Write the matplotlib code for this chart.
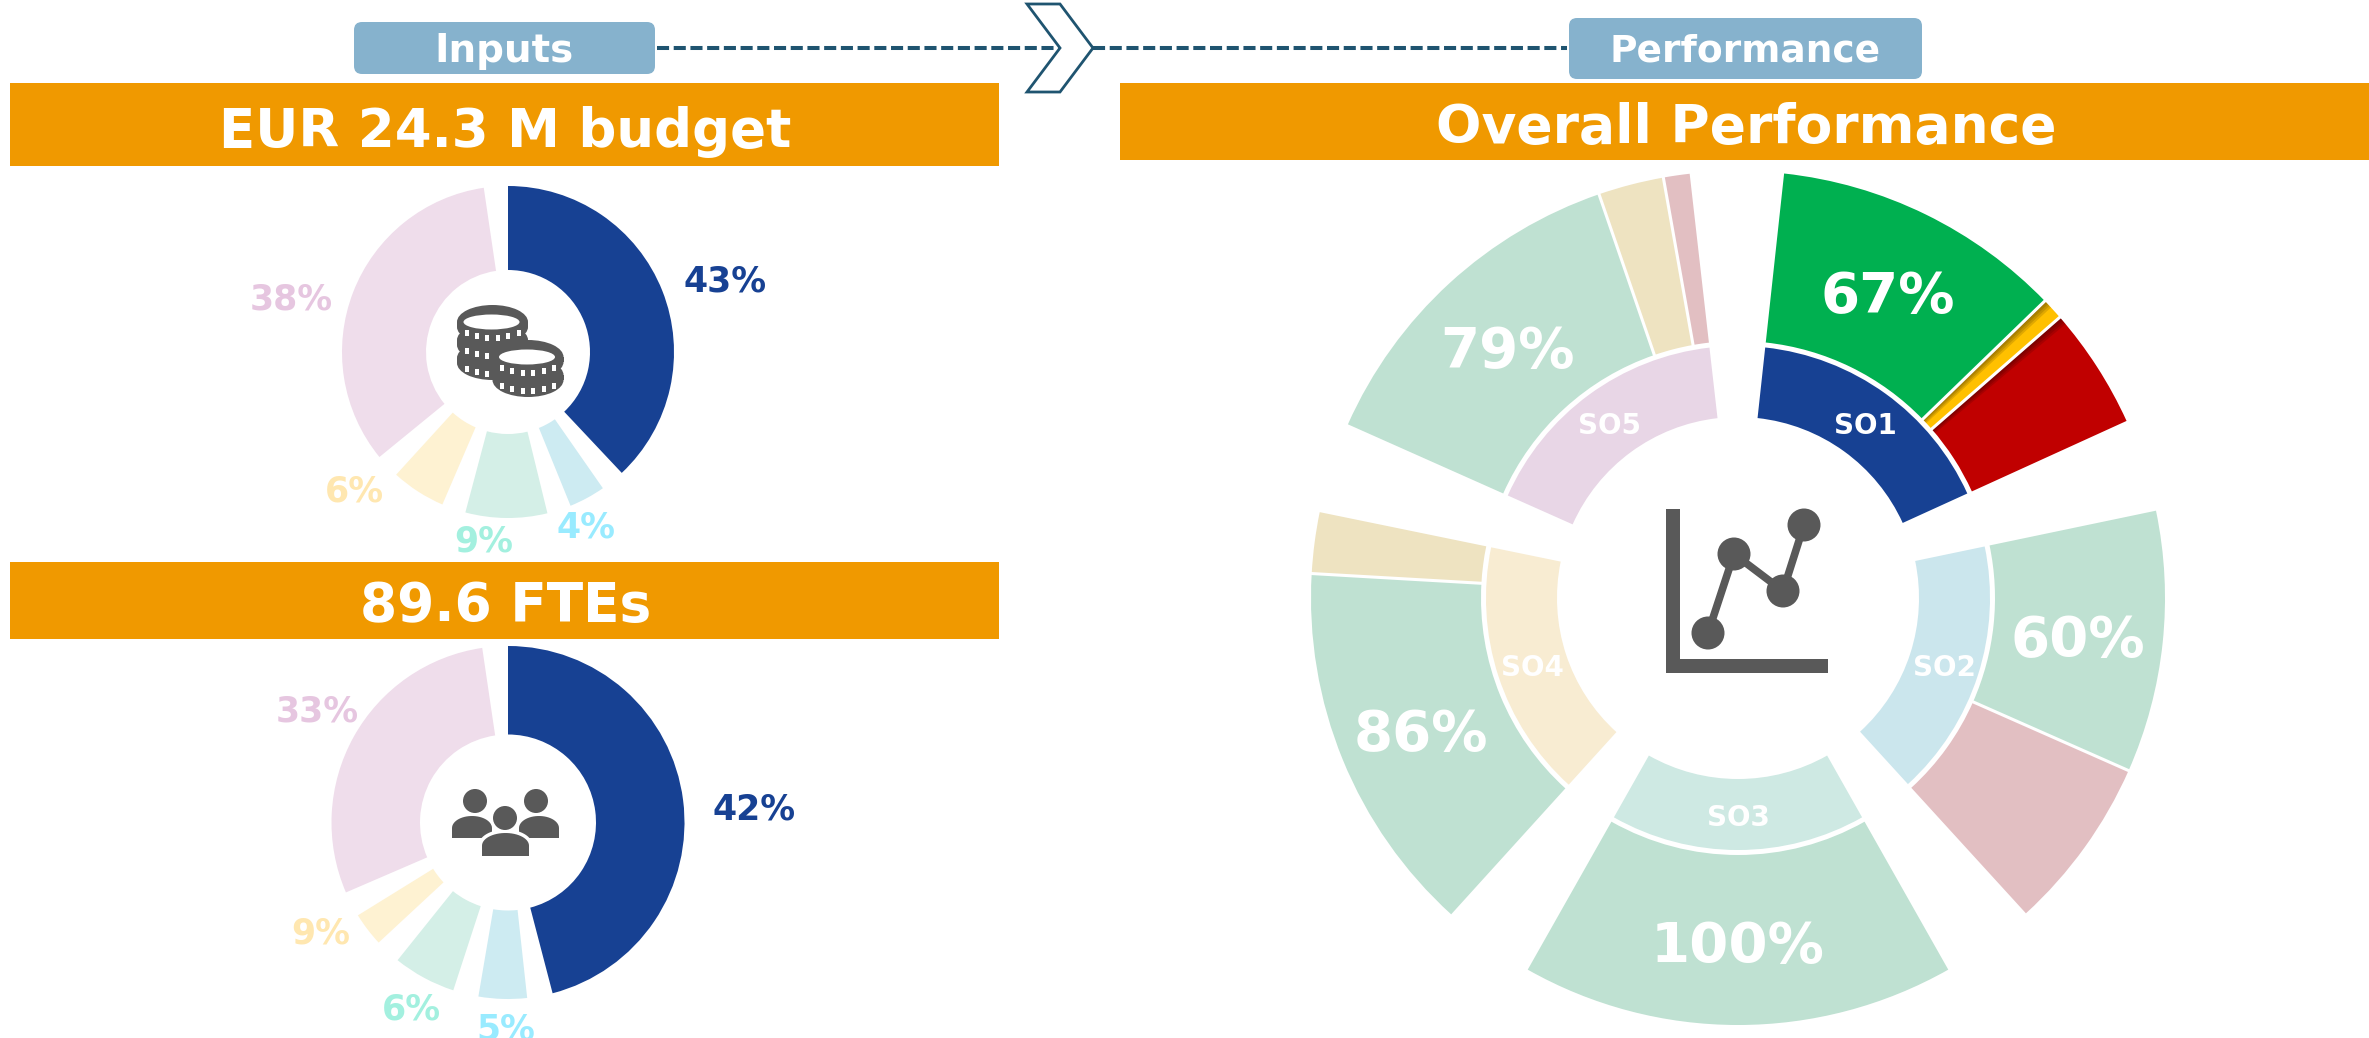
import numpy as np
import matplotlib
matplotlib.use("Agg")
import matplotlib.pyplot as plt
from matplotlib.patches import Wedge, Rectangle, Ellipse, Circle, Polygon, FancyBboxPatch

# Donut values as they are labelled and as they are drawn
budget_labels = ["43%", "4%", "9%", "6%", "38%"]
budget_shares = [43, 4, 9, 6, 38]
fte_labels = ["42%", "5%", "6%", "9%", "33%"]
fte_shares = [52, 5, 6.5, 3.5, 33]  # the slices in the picture do not follow the labels

# Performance per strategic objective (green / amber / red style split)
so_names = ["SO1", "SO2", "SO3", "SO4", "SO5"]
so1_split = [67, 5, 28]
so2_split = [60, 40]
so3_split = [100]
so4_split = [86, 14]
so5_split = [79, 15, 6]
so_scores = ["67%", "60%", "100%", "86%", "79%"]

NAVY = "#174193"
ORANGE = "#F09900"
CHIP = "#86B2CD"
DASH = "#1F5470"
GREY = "#595959"
donut_colors = [NAVY, "#CDEBF2", "#D4EFE7", "#FEF2D2", "#EFDDEB"]
label_colors = [NAVY, "#99EBFF", "#A3F0DF", "#FFE7B0", "#E6C6E0"]

plt.rcParams['font.family'] = ['DejaVu Sans']

fig = plt.figure(figsize=(23.69, 10.38), dpi=100)
ax = fig.add_axes([0, 0, 1, 1])
ax.set_xlim(0, 2369)
ax.set_ylim(1038, 0)  # pixel coordinates, angles then run clockwise
ax.axis("off")


def sector(cx, cy, r_in, r_out, a1, a2, color, **kw):
    # a1, a2 in degrees clockwise from twelve o'clock
    ax.add_patch(Wedge((cx, cy), r_out, a1 - 90, a2 - 90, width=r_out - r_in,
                       facecolor=color, edgecolor="none", **kw))


def donut(cx, cy, r_in, r_out, shares, colors, gap=8.4):
    scale = (360 - gap * len(shares)) / sum(shares)
    a = 0
    for share, color in zip(shares, colors):
        sector(cx, cy, r_in, r_out, a, a + share * scale, color)
        a += share * scale + gap


def banner(x0, x1, y0, y1, txt, size, xc, yc):
    ax.add_patch(Rectangle((x0, y0), x1 - x0, y1 - y0, facecolor=ORANGE, edgecolor="none"))
    ax.text(xc, yc, txt, color="white", fontsize=size, fontweight="bold", ha="center", va="center")


def chip(x0, x1, y0, y1, txt, size):
    ax.add_patch(FancyBboxPatch((x0 + 7, y0 + 7), x1 - x0 - 14, y1 - y0 - 14,
                                boxstyle="round,pad=7,rounding_size=8",
                                facecolor=CHIP, edgecolor="none"))
    ax.text((x0 + x1) / 2, (y0 + y1) / 2 + 3, txt, color="white", fontsize=size,
            fontweight="bold", ha="center", va="center")


def coin_stack(cx, tops, rx=35.5, ry=17, h=5):
    # tops run from the lowest coin up, each one painted over the last
    for top in tops:
        ax.add_patch(Ellipse((cx, top + h), 2 * rx, 2 * ry, facecolor=GREY, edgecolor="none"))
        ax.add_patch(Rectangle((cx - rx, top), 2 * rx, h, facecolor=GREY, edgecolor="none"))
        ax.add_patch(Ellipse((cx, top), 2 * rx, 2 * ry, facecolor=GREY, edgecolor="none"))
        for px in np.linspace(cx - 26, cx + 26, 6):
            u = (px - cx) / 28
            py = top + 16 - 6 * u ** 2
            ax.add_patch(Rectangle((px - 2, py - 3), 4, 6, facecolor="white", edgecolor="none"))
    ax.add_patch(Ellipse((cx - 1, tops[-1]), 2 * rx - 15, 15, facecolor="white", edgecolor="none"))


def person(xc, head_y, head_r, x0, x1, y0, y1, outline=False):
    t = np.linspace(np.pi, 0, 30)
    xs = (x0 + x1) / 2 + (x1 - x0) / 2 * np.cos(t)
    ys = y0 + (y1 - y0) * 0.55 - (y1 - y0) * 0.55 * np.sin(t)
    pts = list(zip(xs, ys)) + [(x1, y1), (x0, y1)]
    if outline:
        ax.add_patch(Polygon(pts, closed=True, facecolor="white", edgecolor="white", linewidth=5))
        ax.add_patch(Ellipse((xc, head_y), 2 * head_r + 6, 2 * head_r + 6, facecolor="white", edgecolor="none"))
    ax.add_patch(Polygon(pts, closed=True, facecolor=GREY, edgecolor="none"))
    ax.add_patch(Ellipse((xc, head_y), 2 * head_r, 2 * head_r, facecolor=GREY, edgecolor="none"))


# Header chips and the dashed link with its chevron
chip(354, 655, 22, 74, "Inputs", 28)
chip(1569, 1922, 18, 79, "Performance", 27)
ax.plot([657, 1060], [48, 48], color=DASH, lw=2.9, linestyle=(0, (3.0, 1.15)))
ax.plot([1093, 1567], [48, 48], color=DASH, lw=2.9, linestyle=(0, (3.0, 1.15)))
ax.add_patch(Polygon([(1027, 4), (1060, 4), (1093, 48), (1060, 92), (1027, 92), (1060, 48)],
                     closed=True, facecolor="white", edgecolor=DASH, linewidth=2))

banner(10, 999, 83, 166, "EUR 24.3 M budget", 38.2, 505, 132)
banner(10, 999, 562, 639, "89.6 FTEs", 38.4, 506, 606)
banner(1120, 2369, 83, 160, "Overall Performance", 38.5, 1746, 128)

# Budget donut
donut(508, 352, 82, 166, budget_shares, donut_colors)
budget_pos = [(725, 282), (586, 527), (484, 542), (354, 491), (291, 300)]
for txt, c, (x, y) in zip(budget_labels, label_colors, budget_pos):
    ax.text(x, y, txt, color=c, fontsize=25, fontweight="bold", ha="center", va="center")
coin_stack(492.5, [358, 340, 322])
coin_stack(528, [375, 357])

# FTE donut
donut(508, 822.5, 88, 176.5, fte_shares, donut_colors)
fte_pos = [(754, 809), (506, 1030), (411, 1010), (321, 934), (317, 712)]
for txt, c, (x, y) in zip(fte_labels, label_colors, fte_pos):
    ax.text(x, y, txt, color=c, fontsize=25, fontweight="bold", ha="center", va="center")
person(475, 801, 12, 452, 492, 816, 838)
person(536, 801, 12, 519, 559, 816, 838)
person(505, 818, 12, 482, 529, 833, 856, outline=True)

# Performance wheel
CX, CY = 1738, 598
RING_IN, RING_OUT, OUT_IN, OUT_OUT = 181, 252, 257, 427
so_starts = [6.2, 78.2, 150.5, 222.2, 294]
so_ends = [65.5, 137.6, 209.5, 281.6, 353.5]
ring_colors = [NAVY, "#CBE6ED", "#CEE9E3", "#F8ECD2", "#E8D6E6"]
splits = [so1_split, so2_split, so3_split, so4_split, so5_split]
split_colors = [["#00B050", "#FFC000", "#C00000"],
                ["#BFE1D2", "#E2BFC2"],
                ["#BFE1D2"],
                ["#BFE1D2", "#EEE3C1"],
                ["#BFE1D2", "#EEE3C1", "#E2BFC2"]]

for start, end, split, cols, ring in zip(so_starts, so_ends, splits, split_colors, ring_colors):
    sector(CX, CY, RING_IN, RING_OUT, start, end, ring)
    a = start
    for k, (share, col) in enumerate(zip(split, cols)):
        a2 = a + (end - start) * share / 100
        sector(CX, CY, OUT_IN, OUT_OUT, a, a2, col)
        # soft shadow on the saturated SO1 slices
        if start == so_starts[0] and k > 0:
            for j in range(4):
                sector(CX, CY, OUT_IN, OUT_OUT, a, a + 0.3 * (j + 1), "black", alpha=0.12)
        if k > 0:
            ax.plot([CX + OUT_IN * np.sin(np.radians(a)), CX + OUT_OUT * np.sin(np.radians(a))],
                    [CY - OUT_IN * np.cos(np.radians(a)), CY - OUT_OUT * np.cos(np.radians(a))],
                    color="white", lw=2.2)
        a = a2

so_pos = [(1865, 426), (1944, 668), (1738, 818), (1532, 668), (1610, 426)]
for name, (x, y) in zip(so_names, so_pos):
    ax.text(x, y, name, color="white", fontsize=20, fontweight="bold", ha="center", va="center")
score_pos = [(1888, 297), (2078, 641), (1738, 947), (1421, 735), (1507, 352)]
for txt, (x, y) in zip(so_scores, score_pos):
    ax.text(x, y, txt, color="white", fontsize=40.5, fontweight="bold", ha="center", va="center")

# Line chart icon in the middle of the wheel
ax.add_patch(Rectangle((1666, 509), 14, 164, facecolor=GREY, edgecolor="none"))
ax.add_patch(Rectangle((1666, 659), 162, 14, facecolor=GREY, edgecolor="none"))
icon_x = [1708, 1734, 1783, 1804]
icon_y = [633, 554, 591, 525]
ax.plot(icon_x, icon_y, color=GREY, lw=5.5)
for x, y in zip(icon_x, icon_y):
    ax.add_patch(Circle((x, y), 16.5, facecolor=GREY, edgecolor="none"))

fig.savefig("out.png", dpi=100, facecolor="white")
